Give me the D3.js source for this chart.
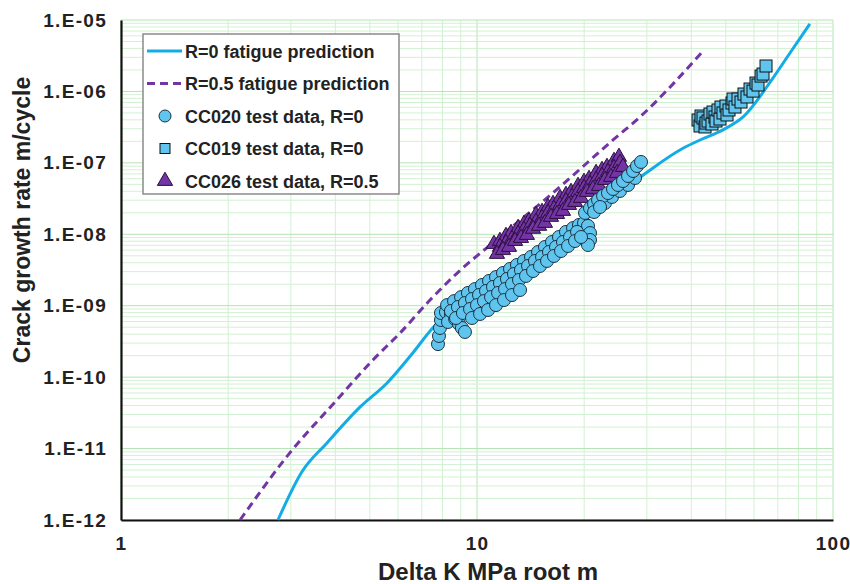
<!DOCTYPE html>
<html>
<head>
<meta charset="utf-8">
<script src="https://cdn.jsdelivr.net/npm/d3@7"></script>
<style>
body{margin:0;background:#fff}
svg{display:block}
text{font-family:"Liberation Sans",Arial,sans-serif;font-weight:bold}
</style>
</head>
<body>
<div id="chart"></div>
<script>
// prediction curves [deltaK, da/dN]
const r0Pred = [[2.76,1e-12],[3.22,4.7e-12],[3.79,1.2e-11],[4.69,3.8e-11],[5.59,8.3e-11],[6.61,2.2e-10],[7.52,4.9e-10],[9.56,1.24e-9],[13.2,3.8e-9],[19.5,1.6e-8],[28.7,6.3e-8],[37.9,1.6e-7],[42.3,2.09e-7],[49.1,2.9e-7],[55.9,4.39e-7],[67.8,1.54e-6],[75.7,3.45e-6],[86.1,8.8e-6]];
const r05Pred = [[2.16,1e-12],[2.98,8.7e-12],[4.04,4.8e-11],[5.10,1.74e-10],[6.08,4.15e-10],[7.38,1.2e-9],[8.56,2.52e-9],[11.6,9.2e-9],[16.35,3.8e-8],[24.1,2.09e-7],[28.7,4.4e-7],[42.9,3.56e-6]];

// test data
const cc020 = [
 [7.77,2.9e-10],[7.82,3.77e-10],[7.87,4.88e-10],[7.92,6.31e-10],[7.92,7.91e-10],[8.18,8.17e-10],[8.45,7.66e-10],[8.29,5.92e-10],
 [8.68,6.52e-10],[8.90,5.55e-10],[9.07,4.88e-10],[9.25,4.29e-10],
 [8.24,1.02e-9],[8.62,1.16e-9],[9.02,1.32e-9],[9.43,1.51e-9],[9.87,1.71e-9],[10.33,1.95e-9],[10.81,2.22e-9],[11.31,2.52e-9],
 [11.83,2.87e-9],[12.38,3.27e-9],[12.95,3.72e-9],[13.55,4.23e-9],[14.18,4.81e-9],[14.84,5.65e-9],[15.52,6.64e-9],[16.24,7.80e-9],
 [16.99,9.16e-9],[17.78,1.08e-8],[18.61,1.22e-8],[19.34,1.35e-8],[19.98,1.44e-8],[20.50,1.31e-8],[20.77,1.04e-8],[20.77,8.32e-9],[20.50,7.08e-9],
 [8.45,8.43e-10],[8.84,9.59e-10],[9.25,1.09e-9],[9.68,1.24e-9],[10.13,1.41e-9],[10.60,1.61e-9],[11.09,1.83e-9],[11.60,2.08e-9],
 [12.14,2.37e-9],[12.70,2.78e-9],[13.29,3.16e-9],[13.91,3.60e-9],[14.55,4.23e-9],[15.23,4.81e-9],[15.93,5.65e-9],[16.67,6.64e-9],
 [17.44,7.80e-9],[18.25,9.16e-9],[19.10,1.08e-8],
 [8.73,6.73e-10],[9.13,7.91e-10],[9.56,8.99e-10],[10.0,1.02e-9],[10.46,1.16e-9],[10.95,1.32e-9],[11.46,1.51e-9],[11.99,1.71e-9],
 [12.54,2.01e-9],[13.12,2.29e-9],[13.73,2.61e-9],[14.37,3.06e-9],[15.03,3.60e-9],[15.73,4.23e-9],[16.45,4.97e-9],[17.22,5.83e-9],
 [18.02,6.86e-9],[18.85,8.05e-9],[19.60,9.16e-9],
 [9.68,6.73e-10],[10.20,7.66e-10],[10.74,8.71e-10],[11.31,1.02e-9],[11.91,1.20e-9],[12.54,1.41e-9],[13.21,1.66e-9],
 [21.60,2.33e-8],[22.88,2.74e-8],[23.95,3.33e-8],[25.22,4.04e-8],[26.56,4.90e-8],[27.79,6.14e-8],
 [20.11,1.99e-8],[20.77,2.33e-8],[21.32,2.65e-8],[21.88,3.02e-8],[22.60,3.44e-8],[23.33,3.78e-8],[24.10,4.31e-8],[24.89,4.90e-8],
 [25.71,5.57e-8],[26.56,6.55e-8],[27.44,7.69e-8],[28.15,9.04e-8],[28.89,1.03e-7],[21.32,2.05e-8],[22.16,2.41e-8]
];
const cc019 = [
 [41.77,3.98e-7],[42.31,3.28e-7],[42.58,4.53e-7],[43.14,4.25e-7],[43.70,3.18e-7],[43.98,3.61e-7],[44.56,3.85e-7],[45.13,4.83e-7],
 [45.72,3.50e-7],[46.02,5.15e-7],[46.61,4.39e-7],[46.92,3.85e-7],[47.53,5.50e-7],[48.15,4.11e-7],[48.46,6.05e-7],[49.09,4.99e-7],
 [50.05,6.25e-7],[50.38,4.68e-7],[51.04,5.50e-7],[52.03,6.89e-7],[52.38,7.83e-7],[53.05,6.05e-7],[54.09,7.83e-7],
 [55.16,7.11e-7],[56.23,9.2e-7],[57.33,8.36e-7],[58.47,1.08e-6],[59.61,1.01e-6],[60.77,1.31e-6],[61.57,1.23e-6],[62.79,1.64e-6],
 [63.60,1.75e-6],[64.84,2.27e-6]
];
const cc026 = [
 [11.16,7.31e-9],[11.60,8.05e-9],[12.06,9.46e-9],[12.46,1.04e-8],[13.04,1.22e-8],[13.55,1.39e-8],[14.00,1.53e-8],[14.64,1.86e-8],
 [15.23,2.05e-8],[15.83,2.41e-8],[16.35,2.65e-8],[17.11,3.22e-8],[17.78,3.55e-8],[18.37,3.91e-8],[19.22,4.74e-8],[19.98,5.40e-8],
 [20.64,5.94e-8],[21.60,7.21e-8],[22.45,7.94e-8],[23.18,8.75e-8],[24.26,1.06e-7],[25.05,1.21e-7],
 [11.60,6.64e-9],[12.06,7.55e-9],[12.54,8.59e-9],[13.04,1.01e-8],[13.55,1.15e-8],[14.09,1.31e-8],[14.64,1.49e-8],[15.23,1.69e-8],
 [15.83,1.99e-8],[16.45,2.26e-8],[17.11,2.57e-8],[17.78,2.92e-8],[18.49,3.33e-8],[19.22,3.91e-8],[19.98,4.45e-8],[20.77,5.06e-8],
 [21.60,5.75e-8],[22.45,6.55e-8],[23.33,7.45e-8],[24.26,8.47e-8],[25.22,9.95e-8],
 [11.38,5.30e-9],[11.83,6.03e-9],[12.30,6.64e-9],[12.79,8.05e-9],[13.29,8.87e-9],[13.81,9.77e-9],[14.37,1.19e-8],[14.94,1.31e-8],
 [15.52,1.44e-8],[16.14,1.75e-8],[16.78,1.92e-8],[17.44,2.12e-8],[18.13,2.57e-8],[18.85,2.83e-8],[19.60,3.22e-8],[20.37,3.91e-8],
 [21.18,4.31e-8],[22.02,4.74e-8],[22.88,5.75e-8],[23.79,6.34e-8],[24.74,7.21e-8],[25.71,8.75e-8]
];

const xTicks = [1,10,100];
const yTicks = [1e-12,1e-11,1e-10,1e-9,1e-8,1e-7,1e-6,1e-5];
const legendLabels = ['R=0 fatigue prediction','R=0.5 fatigue prediction','CC020 test data, R=0','CC019 test data, R=0','CC026 test data, R=0.5'];

const width = 850, height = 584;
const plotL = 121, plotR = 833, plotT = 20, plotB = 520;

const blue = '#14ace6', purple = '#7334a4', lightBlue = '#5fc4ee';

const svg = d3.select('#chart').append('svg')
  .attr('width', width)
  .attr('height', height);

const x = d3.scaleLog().domain([1,100]).range([plotL,plotR]);
const y = d3.scaleLog().domain([1e-12,1e-5]).range([plotB,plotT]);

const isMajor = d => Math.abs(Math.log10(d) - Math.round(Math.log10(d))) < 1e-6;

// gridlines
const grid = svg.append('g');
grid.selectAll('.gx').data(x.ticks()).enter().append('line')
  .attr('x1', d => x(d)).attr('x2', d => x(d))
  .attr('y1', plotT).attr('y2', plotB)
  .attr('stroke', d => isMajor(d) ? '#b4e4b4' : '#d2f1d2')
  .attr('stroke-width', 1);
grid.selectAll('.gy').data(y.ticks()).enter().append('line')
  .attr('x1', plotL).attr('x2', plotR)
  .attr('y1', d => y(d)).attr('y2', d => y(d))
  .attr('stroke', d => isMajor(d) ? '#b4e4b4' : '#d2f1d2')
  .attr('stroke-width', 1);

// axes
const fmt = d => '1.E-' + String(-Math.round(Math.log10(d))).padStart(2,'0');
const yAxis = svg.append('g')
  .attr('transform', `translate(${plotL},0)`)
  .call(d3.axisLeft(y).tickValues(yTicks).tickFormat(fmt).tickSize(0).tickPadding(14));
const xAxis = svg.append('g')
  .attr('transform', `translate(0,${plotB})`)
  .call(d3.axisBottom(x).tickValues(xTicks).tickFormat(d3.format('d')).tickSize(0).tickPadding(17));
[xAxis, yAxis].forEach(a => {
  a.select('.domain').attr('stroke','#111').attr('stroke-width',2.2);
  a.selectAll('text').attr('font-size',19).attr('fill','#222')
    .attr('letter-spacing',1.3)
    .attr('font-family','"Liberation Sans",Arial,sans-serif').attr('font-weight','bold');
});

// titles
svg.append('text')
  .attr('x', 488).attr('y', 580)
  .attr('text-anchor','middle')
  .attr('font-size',24)
  .attr('fill','#222')
  .text('Delta K MPa root m');
svg.append('text')
  .attr('transform','translate(30,220) rotate(-90)')
  .attr('text-anchor','middle')
  .attr('font-size',23)
  .attr('fill','#222')
  .text('Crack growth rate m/cycle');

// prediction lines
const line = d3.line().curve(d3.curveMonotoneX).x(d => x(d[0])).y(d => y(d[1]));
svg.append('path').datum(r0Pred)
  .attr('d', line).attr('fill','none')
  .attr('stroke', blue).attr('stroke-width',3);
svg.append('path').datum(r05Pred)
  .attr('d', line).attr('fill','none')
  .attr('stroke', purple).attr('stroke-width',3)
  .attr('stroke-dasharray','8,5');

// markers
const tri = d3.symbol().type(d3.symbolTriangle).size(100);
svg.append('g').selectAll('path').data(cc026).enter().append('path')
  .attr('d', tri)
  .attr('transform', d => `translate(${x(d[0])},${y(d[1])})`)
  .attr('fill', purple).attr('stroke','#2a0f3c').attr('stroke-width',1);

svg.append('g').selectAll('circle').data(cc020).enter().append('circle')
  .attr('cx', d => x(d[0])).attr('cy', d => y(d[1])).attr('r',6.5)
  .attr('fill', lightBlue).attr('stroke','#1c3342').attr('stroke-width',1);

svg.append('g').selectAll('rect').data(cc019).enter().append('rect')
  .attr('x', d => x(d[0]) - 6).attr('y', d => y(d[1]) - 6)
  .attr('width',12).attr('height',12)
  .attr('fill', lightBlue).attr('stroke','#111').attr('stroke-width',1);

// legend
const lg = svg.append('g');
lg.append('rect')
  .attr('x',143).attr('y',34).attr('width',256).attr('height',160)
  .attr('fill','#fff').attr('stroke','#8a8a8a').attr('stroke-width',1.5);
const rowY = i => 51 + i*32.5;
lg.append('line').attr('x1',147).attr('x2',182).attr('y1',rowY(0)).attr('y2',rowY(0))
  .attr('stroke',blue).attr('stroke-width',3);
lg.append('line').attr('x1',147).attr('x2',182).attr('y1',rowY(1)).attr('y2',rowY(1))
  .attr('stroke',purple).attr('stroke-width',3).attr('stroke-dasharray','8,5');
lg.append('circle').attr('cx',165).attr('cy',rowY(2)).attr('r',6)
  .attr('fill',lightBlue).attr('stroke','#1c3342');
lg.append('rect').attr('x',160).attr('y',rowY(3)-5).attr('width',10).attr('height',10)
  .attr('fill',lightBlue).attr('stroke','#111');
lg.append('path').attr('d',tri).attr('transform',`translate(165,${rowY(4)})`)
  .attr('fill',purple).attr('stroke','#2a0f3c');
lg.selectAll('.lt').data(legendLabels).enter().append('text')
  .attr('x',185).attr('y',(d,i) => rowY(i) + 6.5)
  .attr('font-size',18).attr('fill','#222')
  .text(d => d);
</script>
</body>
</html>
